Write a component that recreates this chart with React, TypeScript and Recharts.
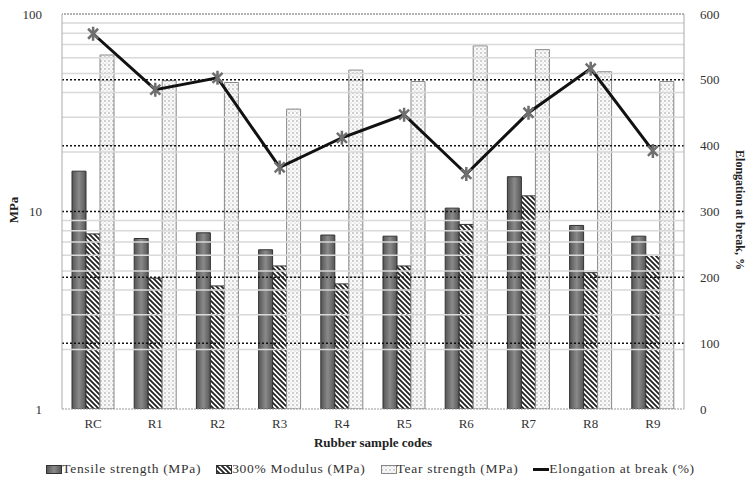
import React from 'react';
import { ComposedChart, Bar, Line, XAxis, YAxis, ReferenceLine, Legend } from 'recharts';

const categories = ['RC', 'R1', 'R2', 'R3', 'R4', 'R5', 'R6', 'R7', 'R8', 'R9'];
const tensile = [16, 7.3, 7.8, 6.4, 7.6, 7.5, 10.4, 15, 8.5, 7.5];
const modulus = [7.7, 4.6, 4.2, 5.3, 4.3, 5.3, 8.6, 12, 4.9, 6.0];
const tear = [62, 46, 45, 33, 52, 45.5, 69, 66, 51, 45.5];
const elongation = [570, 485, 503, 367, 412, 447, 357, 450, 517, 392];

const leftTicks = [1, 10, 100];
const rightTicks = [0, 100, 200, 300, 400, 500, 600];
const minorGrid = [2, 3, 4, 5, 6, 7, 8, 9, 20, 30, 40, 50, 60, 70, 80, 90];
const majorGrid = [100, 200, 300, 400, 500];

const data = categories.map((name, i) => ({
  name,
  tensile: tensile[i],
  modulus: modulus[i],
  tear: tear[i],
  elongation: elongation[i],
}));

const FONT = '"Liberation Serif", "DejaVu Serif", serif';

const StarDot = (props: any) => {
  const { cx, cy } = props;
  if (cx == null || cy == null) return null;
  return (
    <path
      d={`M${cx - 5},${cy - 5}L${cx + 5},${cy + 5}M${cx - 5},${cy + 5}L${cx + 5},${cy - 5}M${cx},${cy - 7}L${cx},${cy + 7}`}
      stroke="#6f6f6f"
      strokeWidth={2.5}
      fill="none"
    />
  );
};

const legendItems = [
  { label: 'Tensile strength (MPa)', kind: 'tensile' },
  { label: '300% Modulus (MPa)', kind: 'modulus' },
  { label: 'Tear strength (MPa)', kind: 'tear' },
  { label: 'Elongation at break (%)', kind: 'line' },
];

const LegendContent = () => (
  <div style={{ display: 'flex', justifyContent: 'center', gap: 15, fontFamily: FONT, fontSize: 13.5, letterSpacing: 0.7, color: '#333' }}>
    {legendItems.map((it) => (
      <div key={it.kind} style={{ display: 'flex', alignItems: 'center' }}>
        <svg width={16} height={9} style={{ marginRight: 0 }}>
          {it.kind === 'line' ? (
            <line x1={0} y1={4.5} x2={16} y2={4.5} stroke="#111" strokeWidth={3} />
          ) : (
            <rect
              x={0.5}
              y={0.5}
              width={15}
              height={8}
              fill={it.kind === 'tensile' ? 'url(#tensileFill)' : it.kind === 'modulus' ? 'url(#hatch)' : 'url(#dots)'}
              stroke={it.kind === 'tear' ? '#888' : '#333'}
            />
          )}
        </svg>
        <span>{it.label}</span>
      </div>
    ))}
  </div>
);

export default function App() {
  return (
    <div style={{ position: 'absolute', left: 0, top: 0, background: '#fff' }}>
      <ComposedChart
        width={746}
        height={486}
        data={data}
        margin={{ top: 14, right: 17, left: 12, bottom: 9 }}
        barGap={0}
      >
        <defs>
          <linearGradient id="tensileFill" x1="0" y1="0" x2="1" y2="0">
            <stop offset="0%" stopColor="#555" />
            <stop offset="50%" stopColor="#8a8a8a" />
            <stop offset="100%" stopColor="#555" />
          </linearGradient>
          <pattern id="hatch" width="5" height="5" patternUnits="userSpaceOnUse">
            <rect width="5" height="5" fill="#fff" />
            <path d="M-1,-1L6,6M-1,4L1,6M4,-1L6,1" stroke="#222" strokeWidth={1.8} />
          </pattern>
          <pattern id="dots" width="4" height="4" patternUnits="userSpaceOnUse">
            <rect width="4" height="4" fill="#fafafa" />
            <circle cx="1" cy="1" r="0.8" fill="#9a9a9a" />
            <circle cx="3" cy="3" r="0.6" fill="#c4c4c4" />
          </pattern>
        </defs>

        {minorGrid.map((v) => (
          <ReferenceLine key={`m${v}`} yAxisId="left" y={v} stroke="#d9d9d9" strokeWidth={1.5} />
        ))}
        {majorGrid.map((v) => (
          <ReferenceLine key={`g${v}`} yAxisId="right" y={v} stroke="#111" strokeWidth={1.5} strokeDasharray="2 2" />
        ))}
        <ReferenceLine yAxisId="right" y={600} stroke="#666" strokeWidth={1} strokeDasharray="2 1" />

        <XAxis
          dataKey="name"
          height={48}
          tickLine={false}
          axisLine={{ stroke: '#999', strokeDasharray: '2 1' }}
          tick={{ fontFamily: FONT, fontSize: 13, fill: '#333' }}
          tickMargin={4}
          label={{ value: 'Rubber  sample codes', position: 'insideBottom', offset: 10, fontFamily: FONT, fontSize: 13, fontWeight: 'bold', fill: '#222' }}
        />
        <YAxis
          yAxisId="left"
          scale="log"
          type="number"
          domain={[1, 100]}
          allowDataOverflow
          ticks={leftTicks}
          width={50}
          tickLine={false}
          axisLine={{ stroke: '#aaa' }}
          tick={{ fontFamily: FONT, fontSize: 13, fill: '#333' }}
          tickMargin={14}
          label={{
            content: () => (
              <text x={18} y={210} transform="rotate(-90 18 210)" textAnchor="middle" fontFamily={FONT} fontSize={13} fontWeight="bold" fill="#222">
                MPa
              </text>
            ),
          }}
        />
        <YAxis
          yAxisId="right"
          orientation="right"
          type="number"
          domain={[0, 600]}
          ticks={rightTicks}
          width={45}
          tickLine={false}
          axisLine={{ stroke: '#aaa' }}
          tick={{ fontFamily: FONT, fontSize: 13, fill: '#333' }}
          tickMargin={10}
          label={{
            content: () => (
              <text x={736} y={210} transform="rotate(90 736 210)" textAnchor="middle" fontFamily={FONT} fontSize={12} fontWeight="bold" fill="#222">
                Elongation at break, %
              </text>
            ),
          }}
        />

        <Bar yAxisId="left" dataKey="tensile" name="Tensile strength (MPa)" barSize={14} fill="url(#tensileFill)" stroke="#333" strokeWidth={1} isAnimationActive={false} />
        <Bar yAxisId="left" dataKey="modulus" name="300% Modulus (MPa)" barSize={14} fill="url(#hatch)" stroke="#333" strokeWidth={1} isAnimationActive={false} />
        <Bar yAxisId="left" dataKey="tear" name="Tear strength (MPa)" barSize={14} fill="url(#dots)" stroke="#888" strokeWidth={1} isAnimationActive={false} />
        <Line
          yAxisId="right"
          dataKey="elongation"
          name="Elongation at break (%)"
          type="linear"
          stroke="#111"
          strokeWidth={3}
          dot={<StarDot />}
          activeDot={false}
          isAnimationActive={false}
        />
        <Legend verticalAlign="bottom" content={<LegendContent />} wrapperStyle={{ paddingTop: 4 }} />
      </ComposedChart>
    </div>
  );
}
